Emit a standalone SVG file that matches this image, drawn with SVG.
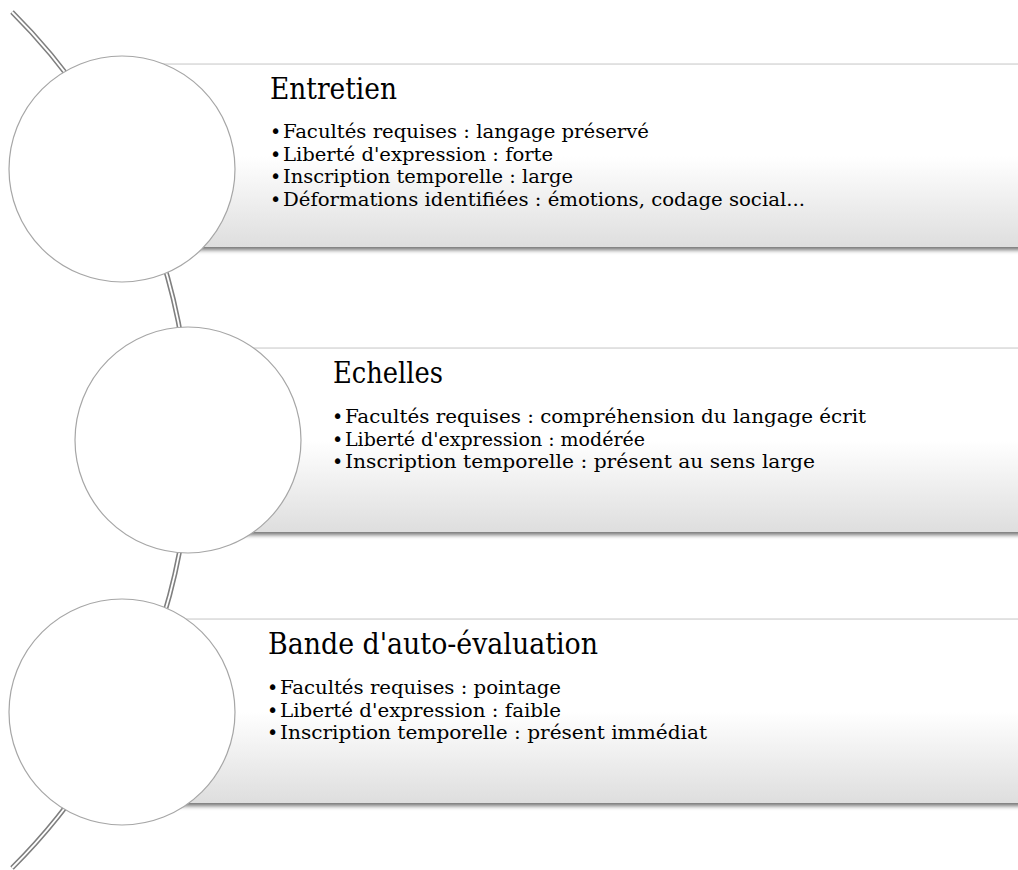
<svg xmlns="http://www.w3.org/2000/svg" width="1018" height="870" viewBox="0 0 1018 870">
<style>
.title{font-family:"DejaVu Serif Condensed","DejaVu Serif","Liberation Serif",serif;font-size:29px;fill:#000}
.body{font-family:"DejaVu Serif Condensed","DejaVu Serif","Liberation Serif",serif;font-size:19px;fill:#000}
.bul{font-family:"DejaVu Sans","Liberation Sans",sans-serif;font-size:19px;fill:#000}
.node-c{fill:#fff;stroke:#a6a6a6;stroke-width:1.2}
.bar{fill:url(#barGrad);filter:url(#shadow)}
.topline{stroke:#e6e6e6;stroke-width:2}
</style>
<defs>
<linearGradient id="barGrad" x1="0" y1="0" x2="0" y2="1">
<stop offset="0" stop-color="#ffffff"/>
<stop offset="0.5" stop-color="#ffffff"/>
<stop offset="1" stop-color="#dedede"/>
</linearGradient>
<filter id="shadow" x="-5%" y="-10%" width="110%" height="130%">
<feDropShadow dx="0" dy="3" stdDeviation="2.2" flood-color="#000" flood-opacity="0.55"/>
</filter>
</defs>
<rect width="1018" height="870" fill="#fff"/>
<g id="connectors">
<path d="M 12 12 A 604 604 0 0 1 12 868" fill="none" stroke="#7f7f7f" stroke-width="5"/>
<path d="M 12 12 A 604 604 0 0 1 12 868" fill="none" stroke="#fff" stroke-width="1.8"/>
</g>
<g id="node-entretien">
<line class="topline" x1="122" y1="64" x2="1018" y2="64"/>
<rect class="bar" x="122" y="65" width="900" height="182"/>
<circle class="node-c" cx="122" cy="169" r="113"/>
<text class="title" x="270" y="99" textLength="127" lengthAdjust="spacingAndGlyphs">Entretien</text>
<text class="bul" x="270" y="138">•</text>
<text class="body" x="283" y="138" textLength="366" lengthAdjust="spacingAndGlyphs">Facultés requises : langage préservé</text>
<text class="bul" x="270" y="161">•</text>
<text class="body" x="283" y="161" textLength="270" lengthAdjust="spacingAndGlyphs">Liberté d'expression : forte</text>
<text class="bul" x="270" y="183">•</text>
<text class="body" x="283" y="183" textLength="290" lengthAdjust="spacingAndGlyphs">Inscription temporelle : large</text>
<text class="bul" x="270" y="206">•</text>
<text class="body" x="283" y="206" textLength="522" lengthAdjust="spacingAndGlyphs">Déformations identifiées : émotions, codage social...</text>
</g>
<g id="node-echelles">
<line class="topline" x1="188" y1="348" x2="1018" y2="348"/>
<rect class="bar" x="188" y="349" width="840" height="183"/>
<circle class="node-c" cx="188" cy="440" r="113"/>
<text class="title" x="333" y="383" textLength="110" lengthAdjust="spacingAndGlyphs">Echelles</text>
<text class="bul" x="332" y="423">•</text>
<text class="body" x="345" y="423" textLength="521" lengthAdjust="spacingAndGlyphs">Facultés requises : compréhension du langage écrit</text>
<text class="bul" x="332" y="446">•</text>
<text class="body" x="345" y="446" textLength="300" lengthAdjust="spacingAndGlyphs">Liberté d'expression : modérée</text>
<text class="bul" x="332" y="468">•</text>
<text class="body" x="345" y="468" textLength="470" lengthAdjust="spacingAndGlyphs">Inscription temporelle : présent au sens large</text>
</g>
<g id="node-bande">
<line class="topline" x1="122" y1="619" x2="1018" y2="619"/>
<rect class="bar" x="122" y="620" width="900" height="183"/>
<circle class="node-c" cx="122" cy="712" r="113"/>
<text class="title" x="268" y="654" textLength="330" lengthAdjust="spacingAndGlyphs">Bande d'auto-évaluation</text>
<text class="bul" x="267" y="694">•</text>
<text class="body" x="280" y="694" textLength="281" lengthAdjust="spacingAndGlyphs">Facultés requises : pointage</text>
<text class="bul" x="267" y="717">•</text>
<text class="body" x="280" y="717" textLength="281" lengthAdjust="spacingAndGlyphs">Liberté d'expression : faible</text>
<text class="bul" x="267" y="739">•</text>
<text class="body" x="280" y="739" textLength="427" lengthAdjust="spacingAndGlyphs">Inscription temporelle : présent immédiat</text>
</g>
</svg>
